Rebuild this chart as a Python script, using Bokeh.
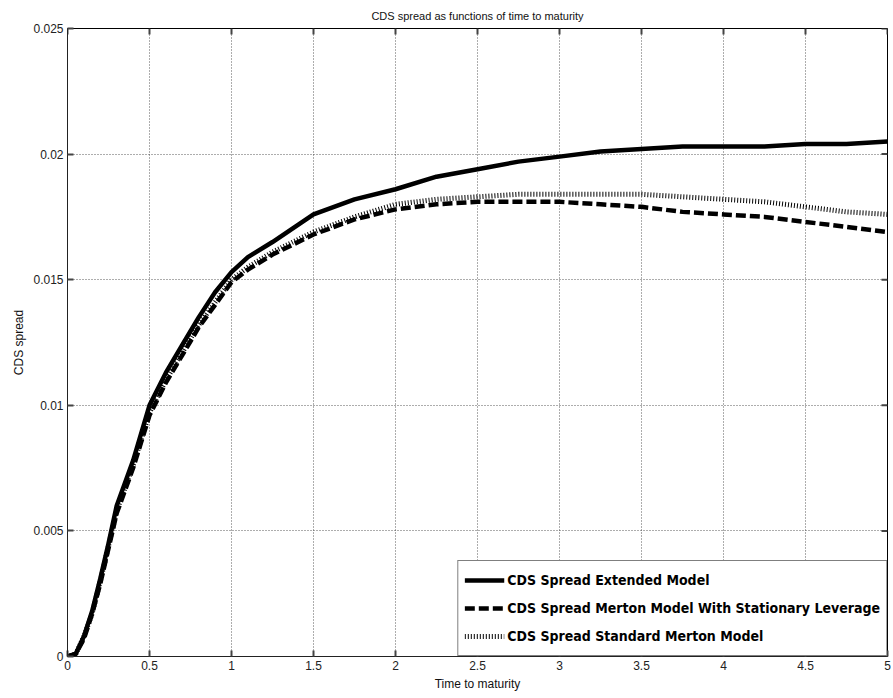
from bokeh.plotting import figure
from bokeh.models import FixedTicker, Legend, LegendItem, Range1d
from bokeh.embed import file_html
from bokeh.resources import INLINE

# ---- data ----
t = [0, 0.05, 0.1, 0.15, 0.2, 0.25, 0.3, 0.4, 0.5, 0.6, 0.7, 0.8, 0.9, 1.0, 1.1,
     1.25, 1.5, 1.75, 2.0, 2.25, 2.5, 2.75, 3.0, 3.25, 3.5, 3.75, 4.0, 4.25, 4.5, 4.75, 5.0]
extended = [0, 0.0001, 0.0008, 0.0018, 0.0031, 0.0045, 0.0060, 0.0078, 0.0100, 0.0113,
            0.0124, 0.0135, 0.0145, 0.0153, 0.0159, 0.0165, 0.0176, 0.0182, 0.0186,
            0.0191, 0.0194, 0.0197, 0.0199, 0.0201, 0.0202, 0.0203, 0.0203, 0.0203,
            0.0204, 0.0204, 0.0205]
stationary = [0, 0.0001, 0.0007, 0.0017, 0.0029, 0.0043, 0.0057, 0.0075, 0.0096, 0.0109,
              0.0120, 0.0131, 0.0140, 0.0149, 0.0154, 0.0160, 0.0168, 0.0174, 0.0178,
              0.0180, 0.0181, 0.0181, 0.0181, 0.0180, 0.0179, 0.0177, 0.0176, 0.0175,
              0.0173, 0.0171, 0.0169]
standard = [0, 0.0001, 0.0008, 0.0017, 0.0030, 0.0044, 0.0058, 0.0076, 0.0097, 0.0110,
            0.0121, 0.0132, 0.0141, 0.0150, 0.0155, 0.0161, 0.0169, 0.0175, 0.0180,
            0.0182, 0.0183, 0.0184, 0.0184, 0.0184, 0.0184, 0.0183, 0.0182, 0.0181,
            0.0179, 0.0177, 0.0176]

x_ticks = [0, 0.5, 1, 1.5, 2, 2.5, 3, 3.5, 4, 4.5, 5]
x_tick_labels = ["0", "0.5", "1", "1.5", "2", "2.5", "3", "3.5", "4", "4.5", "5"]
y_ticks = [0, 0.005, 0.01, 0.015, 0.02, 0.025]
y_tick_labels = ["0", "0.005", "0.01", "0.015", "0.02", "0.025"]

series_names = ["CDS Spread Extended Model",
                "CDS Spread Merton Model With Stationary Leverage",
                "CDS Spread Standard Merton Model"]

LABEL_FONT = "Liberation Sans"
FW, FH = 820, 628
X0, X1 = 0, 5
Y0, Y1 = 0, 0.025

p = figure(frame_width=FW, frame_height=FH, output_backend="svg", toolbar_location=None,
           x_range=Range1d(X0, X1), y_range=Range1d(Y0, Y1),
           min_border_left=67, min_border_right=4, min_border_top=28, min_border_bottom=30,
           title="CDS spread as functions of time to maturity",
           x_axis_label="Time to maturity", y_axis_label="CDS spread")

p.title.align = "center"
p.title.vertical_align = "top"
p.title.text_font = LABEL_FONT
p.title.text_font_size = "11px"
p.title.text_font_style = "normal"
p.title.text_color = "#111111"
p.title.standoff = 10

p.outline_line_color = "black"
p.outline_line_width = 1
p.background_fill_color = "white"
p.border_fill_color = "white"

for ax, ticks, labels in ((p.xaxis[0], x_ticks, x_tick_labels), (p.yaxis[0], y_ticks, y_tick_labels)):
    ax.ticker = FixedTicker(ticks=ticks)
    ax.major_label_overrides = {tk: lb for tk, lb in zip(ticks, labels)}
    ax.major_tick_in = 6
    ax.major_tick_out = 0
    ax.minor_tick_in = 0
    ax.minor_tick_out = 0
    ax.axis_line_color = "#222222"
    ax.major_tick_line_color = "#444444"
    ax.major_tick_line_width = 2
    ax.major_label_text_font = LABEL_FONT
    ax.major_label_text_font_size = "12px"
    ax.major_label_text_color = "#222222"
    ax.major_label_standoff = 4
    ax.axis_label_text_font = LABEL_FONT
    ax.axis_label_text_font_size = "12px"
    ax.axis_label_text_font_style = "normal"
    ax.axis_label_text_color = "#111111"
    ax.axis_label_standoff = 4
p.yaxis[0].major_label_orientation = "horizontal"

# MATLAB-style box ticks on the top and right edges (at the same tick values)
tick_px = 6
dy = tick_px / FH * (Y1 - Y0)
dx = tick_px / FW * (X1 - X0)
p.segment(x0=x_ticks, y0=[Y1] * len(x_ticks), x1=x_ticks, y1=[Y1 - dy] * len(x_ticks),
          line_color="#444444", line_width=2)
p.segment(x0=[X1] * len(y_ticks), y0=y_ticks, x1=[X1 - dx] * len(y_ticks), y1=y_ticks,
          line_color="#444444", line_width=2)

p.xgrid.ticker = FixedTicker(ticks=x_ticks)
p.ygrid.ticker = FixedTicker(ticks=y_ticks)
for g in (p.xgrid[0], p.ygrid[0]):
    g.grid_line_color = "#333333"
    g.grid_line_alpha = 0.8
    g.grid_line_dash = "1 2"
    g.grid_line_width = 1

r1 = p.line(t, extended, line_color="black", line_width=4.5)
r2 = p.line(t, stationary, line_color="black", line_width=4.5, line_dash="10 4")
r3 = p.line(t, standard, line_color="black", line_width=5, line_dash="1 2")

legend = Legend(items=[LegendItem(label=series_names[0], renderers=[r1]),
                       LegendItem(label=series_names[1], renderers=[r2]),
                       LegendItem(label=series_names[2], renderers=[r3])],
                location="bottom_right")
legend.margin = 0
legend.padding = 6
legend.spacing = 2
legend.glyph_width = 40
legend.glyph_height = 26
legend.label_height = 26
legend.label_standoff = 3
legend.label_text_font = "DejaVu Sans Condensed"
legend.label_text_font_style = "bold"
legend.label_text_font_size = "14px"
legend.label_text_color = "black"
legend.border_line_color = "black"
legend.border_line_width = 1.5
legend.background_fill_color = "white"
legend.background_fill_alpha = 1
p.add_layout(legend, "center")

open("out.html", "w").write(file_html(p, INLINE))
